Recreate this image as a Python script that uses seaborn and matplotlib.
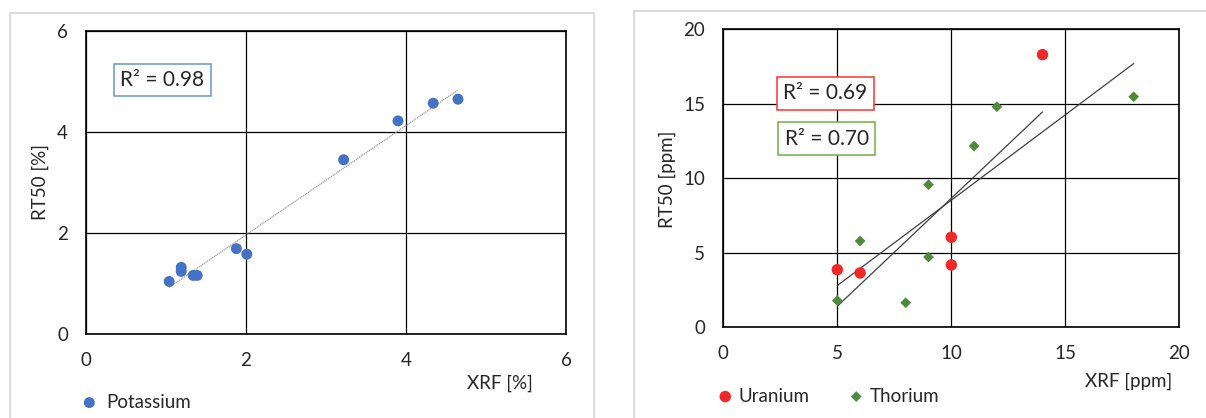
import numpy as np
import pandas as pd
import matplotlib
matplotlib.use("Agg")
import matplotlib.pyplot as plt
from matplotlib.patches import Rectangle
import seaborn as sns

# ---------------- data ----------------
k_xrf = [1.04, 1.19, 1.19, 1.34, 1.39, 1.88, 2.01, 3.22, 3.90, 4.34, 4.65]
k_rt50 = [1.04, 1.32, 1.24, 1.16, 1.16, 1.69, 1.58, 3.45, 4.22, 4.57, 4.65]

u_xrf = [5, 6, 10, 10, 14]
u_rt50 = [3.85, 3.63, 6.03, 4.17, 18.3]

th_xrf = [5, 6, 8, 9, 9, 11, 12, 18]
th_rt50 = [1.77, 5.78, 1.63, 9.56, 4.70, 12.16, 14.8, 15.47]

left_ticks = [0, 2, 4, 6]
right_ticks = [0, 5, 10, 15, 20]

r2_k = "R² = 0.98"
r2_u = "R² = 0.69"
r2_th = "R² = 0.70"

# ---------------- style ----------------
sns.set_theme(style="white")
plt.rcParams['font.family'] = ['Lato', 'DejaVu Sans']
TXT = '#262626'
FS = 13.5

W, H = 1206, 418
fig = plt.figure(figsize=(W / 100, H / 100), dpi=100)
fig.patch.set_facecolor('white')

def px_axes(x0, y0, x1, y1):
    return fig.add_axes([x0 / W, 1 - y1 / H, (x1 - x0) / W, (y1 - y0) / H])

# panel borders
fig.patches.append(Rectangle((9.5 / W, -0.1), (593.5 - 9.5) / W, 1.1 - 13 / H,
                             transform=fig.transFigure, fill=False,
                             edgecolor='#D4D4D4', linewidth=1.2))
fig.patches.append(Rectangle((633.5 / W, -0.1), 0.6, 1.1 - 11 / H,
                             transform=fig.transFigure, fill=False,
                             edgecolor='#D4D4D4', linewidth=1.2))

def style_axes(ax, ticks):
    ax.set_xlim(ticks[0], ticks[-1])
    ax.set_ylim(ticks[0], ticks[-1])
    ax.set_xticks(ticks)
    ax.set_yticks(ticks)
    ax.grid(True, color='black', linewidth=0.9)
    ax.set_axisbelow(True)
    for s in ax.spines.values():
        s.set_color('black')
        s.set_linewidth(1.2)
        s.set_visible(True)
    ax.tick_params(axis='both', length=0, labelsize=FS, colors=TXT)
    ax.tick_params(axis='x', pad=13)
    ax.tick_params(axis='y', pad=13)

# ---------------- left panel ----------------
axL = px_axes(86, 31, 566, 334)
dfk = pd.DataFrame({'XRF': k_xrf, 'RT50': k_rt50})
sns.regplot(data=dfk, x='XRF', y='RT50', ax=axL, scatter=False, ci=None,
            truncate=True, line_kws=dict(color='#9A9A9A', linewidth=0.9, linestyle=(0, (1, 0.6))))
sns.scatterplot(data=dfk, x='XRF', y='RT50', ax=axL, color='#4472C4', s=62,
                edgecolor='none', label='Potassium', zorder=3)
style_axes(axL, left_ticks)
axL.set_xlabel('XRF [%]', fontsize=FS, color=TXT)
axL.set_ylabel('RT50 [%]', fontsize=FS, color=TXT)
axL.xaxis.set_label_coords(0.8625, -0.162)
axL.xaxis.label.set_va('center')
axL.yaxis.set_label_coords(-0.096, 0.5)
axL.yaxis.label.set_va('center')
axL.text(0.956, 5.03, r2_k, fontsize=15, color=TXT, ha='center', va='center',
         bbox=dict(boxstyle='square,pad=0.3', facecolor='white', edgecolor='#6A93D4', linewidth=1.1))
legL = axL.legend(loc='center left', bbox_to_anchor=(79 / W, 1 - 402 / H),
                  bbox_transform=fig.transFigure, frameon=False, fontsize=FS,
                  handletextpad=0.35, handlelength=1.1, borderpad=0, borderaxespad=0)
for t in legL.get_texts():
    t.set_color(TXT)

# ---------------- right panel ----------------
axR = px_axes(723.3, 29.3, 1179.3, 327)
dfu = pd.DataFrame({'XRF': u_xrf, 'RT50': u_rt50})
dft = pd.DataFrame({'XRF': th_xrf, 'RT50': th_rt50})
sns.regplot(data=dfu, x='XRF', y='RT50', ax=axR, scatter=False, ci=None,
            truncate=True, line_kws=dict(color='#404040', linewidth=0.9))
sns.regplot(data=dft, x='XRF', y='RT50', ax=axR, scatter=False, ci=None,
            truncate=True, line_kws=dict(color='#404040', linewidth=0.9))
sns.scatterplot(data=dfu, x='XRF', y='RT50', ax=axR, color='#F02828', s=68,
                edgecolor='none', marker='o', label='Uranium', zorder=3)
sns.scatterplot(data=dft, x='XRF', y='RT50', ax=axR, color='#4F8A3A', s=30,
                edgecolor='none', marker='D', label='Thorium', zorder=3)
style_axes(axR, right_ticks)
axR.set_xlabel('XRF [ppm]', fontsize=FS, color=TXT)
axR.set_ylabel('RT50 [ppm]', fontsize=FS, color=TXT)
axR.xaxis.set_label_coords(0.889, -0.184)
axR.xaxis.label.set_va('center')
axR.yaxis.set_label_coords(-0.123, 0.495)
axR.yaxis.label.set_va('center')
axR.text(4.48, 15.69, r2_u, fontsize=15, color=TXT, ha='center', va='center',
         bbox=dict(boxstyle='square,pad=0.3', facecolor='white', edgecolor='#FF3030', linewidth=1.1))
axR.text(4.53, 12.66, r2_th, fontsize=15, color=TXT, ha='center', va='center',
         bbox=dict(boxstyle='square,pad=0.3', facecolor='white', edgecolor='#70AD47', linewidth=1.1))
legR = axR.legend(loc='center left', bbox_to_anchor=(714 / W, 1 - 396 / H),
                  bbox_transform=fig.transFigure, frameon=False, fontsize=FS, ncol=2,
                  handletextpad=0.1, handlelength=1.2, columnspacing=1.9,
                  borderpad=0, borderaxespad=0)
for t in legR.get_texts():
    t.set_color(TXT)

fig.savefig('out.png', dpi=100, facecolor='white')
